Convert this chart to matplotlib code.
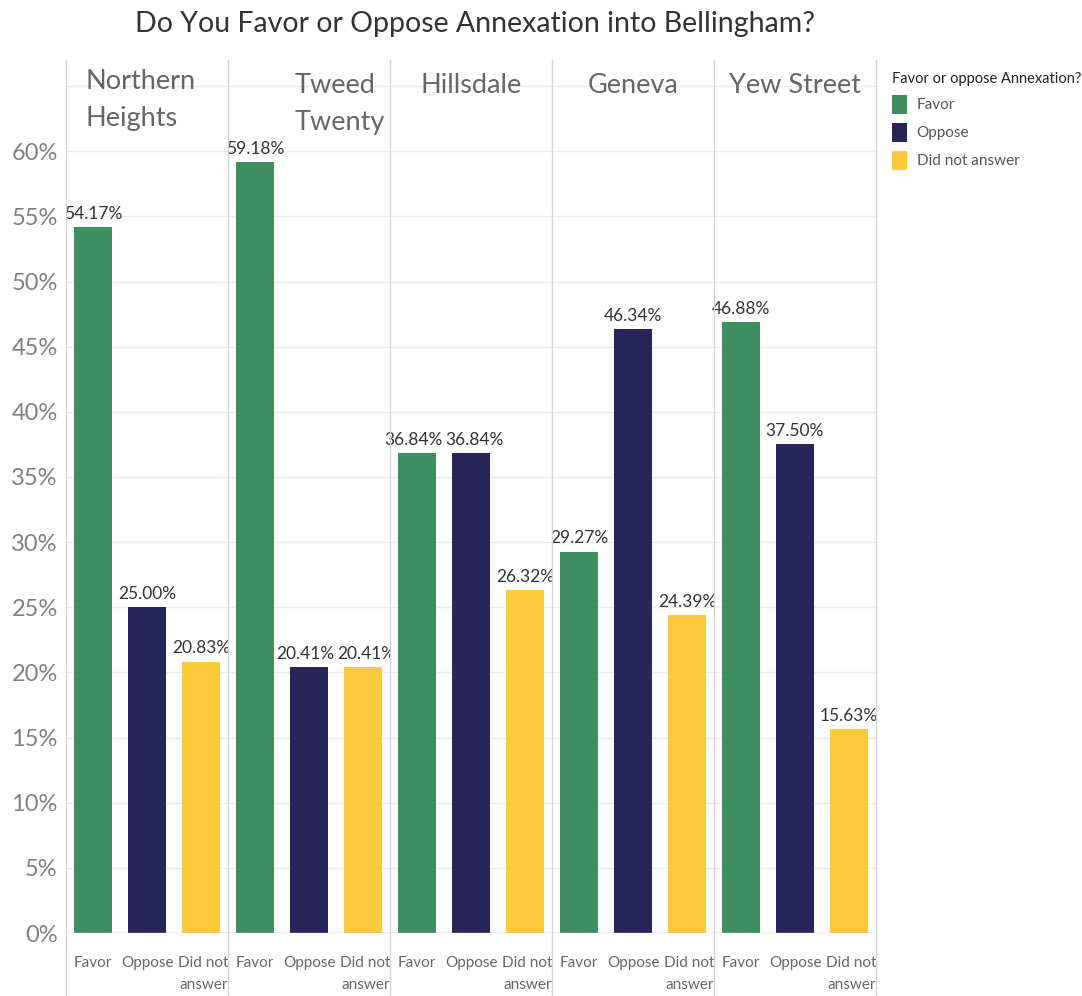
import matplotlib
matplotlib.use("Agg")
import matplotlib.pyplot as plt
from matplotlib.patches import Patch

plt.rcParams['font.family'] = ['Lato', 'DejaVu Sans']

title = "Do You Favor or Oppose Annexation into Bellingham?"
neighborhoods = ["Northern\nHeights", "Tweed\nTwenty", "Hillsdale", "Geneva", "Yew Street"]
responses = ["Favor", "Oppose", "Did not answer"]
response_labels = ["Favor", "Oppose", "Did not\nanswer"]
favor = [54.17, 59.18, 36.84, 29.27, 46.88]
oppose = [25.00, 20.41, 36.84, 46.34, 37.50]
no_answer = [20.83, 20.41, 26.32, 24.39, 15.63]
yticks = [0, 5, 10, 15, 20, 25, 30, 35, 40, 45, 50, 55, 60]
colors = ["#3f8e5f", "#27255a", "#fcc93c"]

W, H = 1082, 996
fig = plt.figure(figsize=(W / 100, H / 100), dpi=100)
left, right = 66 / W, 876 / W
bottom, top = (H - 933) / H, (H - 60) / H
gs = fig.add_gridspec(1, 5, left=left, right=right, bottom=bottom, top=top, wspace=0)

series = [favor, oppose, no_answer]
for i, name in enumerate(neighborhoods):
    ax = fig.add_subplot(gs[0, i])
    vals = [s[i] for s in series]
    xs = list(range(3))
    ax.bar(xs, vals, width=0.72, color=colors, zorder=3)
    # nudge labels apart when neighbouring bars have nearly equal heights
    offs = [0.0, 0.0, 0.0]
    for j in range(2):
        if abs(vals[j] - vals[j + 1]) < 2.5:
            offs[j] -= 0.07
            offs[j + 1] += 0.07
    for x, v, o in zip(xs, vals, offs):
        ax.text(x + o, v + 0.4, f"{v:.2f}%", ha='center', va='bottom',
                fontsize=12.5, color='#333333', zorder=4)
    ax.set_xlim(-0.5, 2.5)
    ax.set_ylim(0, 67)
    ax.set_yticks(yticks)
    for g in yticks + [65]:
        ax.axhline(g, color='#ececec', lw=1, zorder=0)
    ax.axhline(0, color='#bbbbbb', lw=1, zorder=4)
    ax.set_xticks(xs)
    ax.set_xticklabels([])
    for x, lab in zip(xs, response_labels):
        ha = 'right' if '\n' in lab else 'center'
        xx = x + 0.5 if '\n' in lab else x
        ax.text(xx, -1.8, lab, ha=ha, va='top', fontsize=11, color='#666666',
                multialignment='right', linespacing=1.65, clip_on=False)
    ax.tick_params(axis='x', length=0)
    ax.tick_params(axis='y', length=0)
    if i == 0:
        ax.set_yticklabels([f"{t}%" for t in yticks], fontsize=17, color='#808080')
        ax.tick_params(axis='y', pad=6)
    else:
        ax.tick_params(axis='y', labelleft=False)
    for sp in ax.spines.values():
        sp.set_visible(False)
    # panel titles
    if i == 0:
        ax.text(0.123, 0.99, name, transform=ax.transAxes, ha='left', va='top',
                fontsize=19.5, color='#666666', linespacing=1.6)
    elif i == 1:
        ax.text(0.41, 0.985, name, transform=ax.transAxes, ha='left', va='top',
                fontsize=19.5, color='#666666', linespacing=1.6)
    else:
        ax.text(0.5, 0.985, name, transform=ax.transAxes, ha='center', va='top',
                fontsize=19.5, color='#666666')

# vertical panel separators
for px in [66, 228, 390, 552, 714, 876]:
    x = px / W
    fig.add_artist(plt.Line2D([x, x], [0, top], transform=fig.transFigure,
                              color='#d5d5d5', lw=1))

fig.text(475 / W, 1 - 24 / H, title, ha='center', va='center', fontsize=20.5, color='#333333')

handles = [Patch(facecolor=c, edgecolor='none') for c in colors]
leg = fig.legend(handles, responses, loc='upper left', bbox_to_anchor=(886 / W, 1 - 66 / H),
                 frameon=False, title="Favor or oppose Annexation?", alignment='left',
                 fontsize=11, title_fontsize=10.5, handlelength=1.0, handleheight=1.6,
                 handletextpad=0.6, labelspacing=0.55, borderaxespad=0)
for t in leg.get_texts():
    t.set_color('#555555')
leg.get_title().set_color('#222222')

fig.savefig("out.png", dpi=100)
